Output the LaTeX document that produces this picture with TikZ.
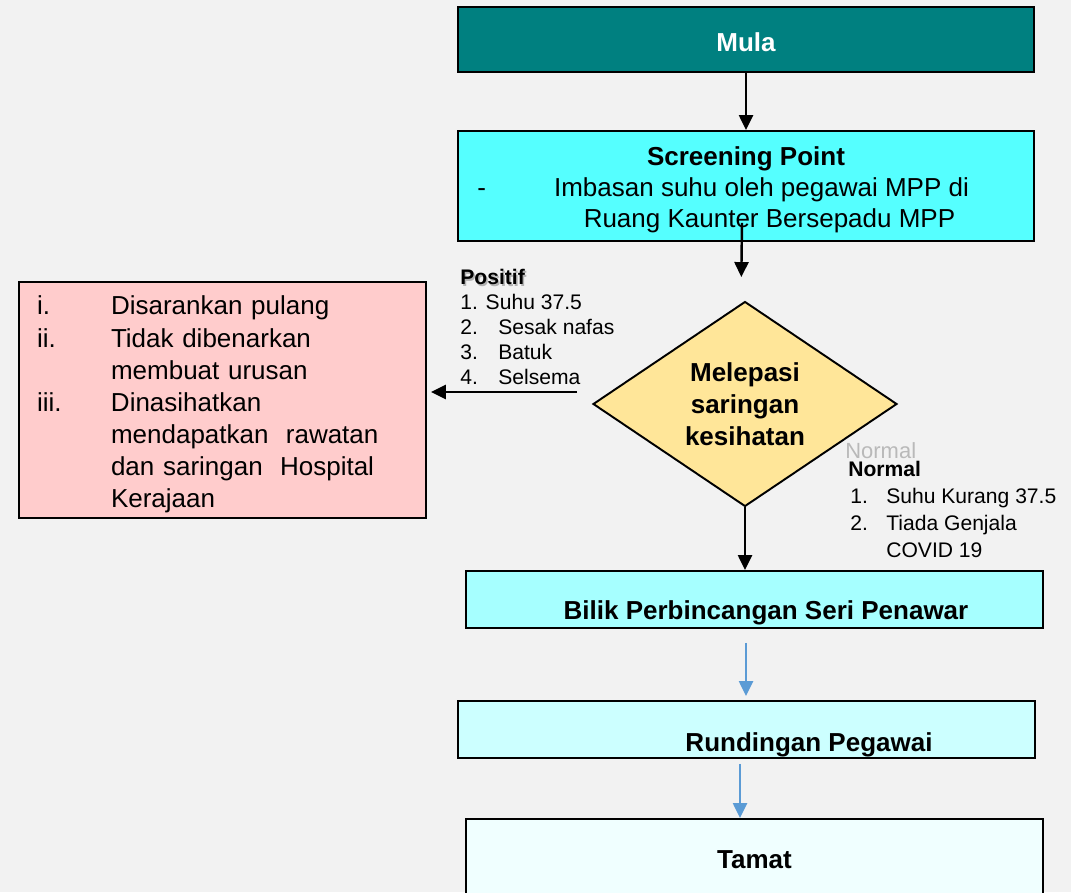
\documentclass[tikz,border=0pt]{standalone}
\usepackage{fontspec}
\setmainfont{Liberation Sans}
\usetikzlibrary{arrows.meta}
\usetikzlibrary{shapes.geometric}

\definecolor{bggray}{RGB}{242,242,242}
\definecolor{mulateal}{RGB}{0,128,128}
\definecolor{screencyan}{RGB}{85,255,255}
\definecolor{pinkfill}{RGB}{255,204,204}
\definecolor{diamondfill}{RGB}{255,230,153}
\definecolor{bilikfill}{RGB}{166,255,255}
\definecolor{rundfill}{RGB}{204,255,255}
\definecolor{tamatfill}{RGB}{240,255,255}
\definecolor{arrowblue}{RGB}{91,155,213}

\begin{document}
\begin{tikzpicture}[x=0.02cm,y=-0.02cm,
    box/.style={draw=black,line width=1.1pt,rectangle,inner sep=0pt},
    bigtext/.style={font=\fontsize{14.8}{18.3}\selectfont},
    bigbold/.style={font=\fontsize{14.8}{18.3}\selectfont\bfseries},
    smalltext/.style={font=\fontsize{12}{14.2}\selectfont,align=left,inner sep=0pt,anchor=north west},
    blackarrow/.style={line width=1.4pt,-{Triangle[width=0.28cm,length=0.3cm]}},
    bluearrow/.style={line width=1.4pt,arrowblue,-{Triangle[width=0.28cm,length=0.3cm]}}]

    % background and frame of the page
    \useasboundingbox (0,0) rectangle (1071,892);
    \fill[bggray] (0,0) rectangle (1071,892);
    \clip (0,0) rectangle (1071,892);

    % main column
    \node[box,fill=mulateal,minimum width=11.52cm,minimum height=1.3cm,text=white,bigbold] (mula) at (746,39.5) {\rule{0pt}{13.5pt}Mula};

    \node[box,fill=screencyan,minimum width=11.52cm,minimum height=2.2cm,align=center,font=\fontsize{14.8}{17.6}\selectfont] (screen) at (746,186)
        {\rule{0pt}{15pt}{\bfseries Screening Point}\\
         \hspace*{0.62cm}\llap{-\hspace{1.36cm}}Imbasan suhu oleh pegawai MPP di\\
         \hspace*{0.94cm}Ruang Kaunter Bersepadu MPP};

    \node[diamond,aspect=1.48,draw=black,line width=1.1pt,fill=diamondfill,minimum width=6.08cm,minimum height=4.1cm,inner sep=0pt,bigbold,align=center] (dia) at (745,404)
        {Melepasi\\saringan\\kesihatan};

    \node[box,fill=bilikfill,minimum width=11.54cm,minimum height=1.14cm] (bilik) at (754.5,599.5) {};
    \node[bigbold] (bilikText) at (766,613) {Bilik Perbincangan Seri Penawar};

    \node[box,fill=rundfill,minimum width=11.54cm,minimum height=1.14cm] (rund) at (746.5,729.5) {};
    \node[bigbold] (rundText) at (809,745) {Rundingan Pegawai};

    \node[box,fill=tamatfill,minimum width=11.54cm,minimum height=1.56cm,bigbold] (tamat) at (754.5,858) {\rule{0pt}{12.5pt}Tamat};

    % positif branch
    \node[box,fill=pinkfill,minimum height=4.72cm,text width=7.42cm,inner xsep=0.36cm,align=left,bigtext] (pink) at (222.5,400)
        {\rule{0pt}{16pt}\makebox[1.48cm][l]{i.}Disarankan pulang\\
         \makebox[1.48cm][l]{ii.}Tidak dibenarkan\\
         \hspace*{1.48cm}membuat urusan\\
         \makebox[1.48cm][l]{iii.}Dinasihatkan\\
         \hspace*{1.48cm}mendapatkan\ \ rawatan\\
         \hspace*{1.48cm}dan saringan\ \ Hospital\\
         \hspace*{1.48cm}Kerajaan};

    \node[smalltext,text=gray!60] (positifShadow) at (461.5,270.5) {\bfseries Positif};
    \node[smalltext] (positif) at (460,269)
        {\textbf{Positif}\\
         1. Suhu 37.5\\
         \makebox[0.76cm][l]{2.}Sesak nafas\\
         \makebox[0.76cm][l]{3.}Batuk\\
         \makebox[0.76cm][l]{4.}Selsema};

    % normal branch
    \node[smalltext,text=gray!55,font=\fontsize{12.5}{15}\selectfont] (normalGhost) at (845,442) {Normal};
    \node[smalltext,font=\fontsize{12}{15.3}\selectfont] (normal) at (848,461)
        {\textbf{Normal}\\
         \makebox[0.76cm][l]{\hspace*{0.04cm}1.}Suhu Kurang 37.5\\
         \makebox[0.76cm][l]{\hspace*{0.04cm}2.}Tiada Genjala\\
         \hspace*{0.76cm}COVID 19};

    % arrows
    \draw[blackarrow] (mula.south) -- (screen.north);
    \draw[blackarrow,shorten >=0.47cm] ([xshift=-0.08cm,yshift=0.38cm]screen.south) -- ([xshift=-0.08cm]dia.north);
    \draw[blackarrow] (dia.south) -- (dia.south |- bilik.north);

    \coordinate (posStart) at ([yshift=0.24cm]dia.west);
    \draw[blackarrow,shorten <=0.3cm,shorten >=0.08cm] (posStart) -- (posStart -| pink.east);

    \coordinate (bilikOut) at ([xshift=-0.17cm]bilik.south);
    \draw[bluearrow,shorten <=0.28cm,shorten >=0.08cm] (bilikOut) -- (bilikOut |- rund.north);
    \coordinate (rundOut) at ([xshift=-0.13cm]rund.south);
    \draw[bluearrow,shorten <=0.1cm] (rundOut) -- (rundOut |- tamat.north);

\end{tikzpicture}
\end{document}
